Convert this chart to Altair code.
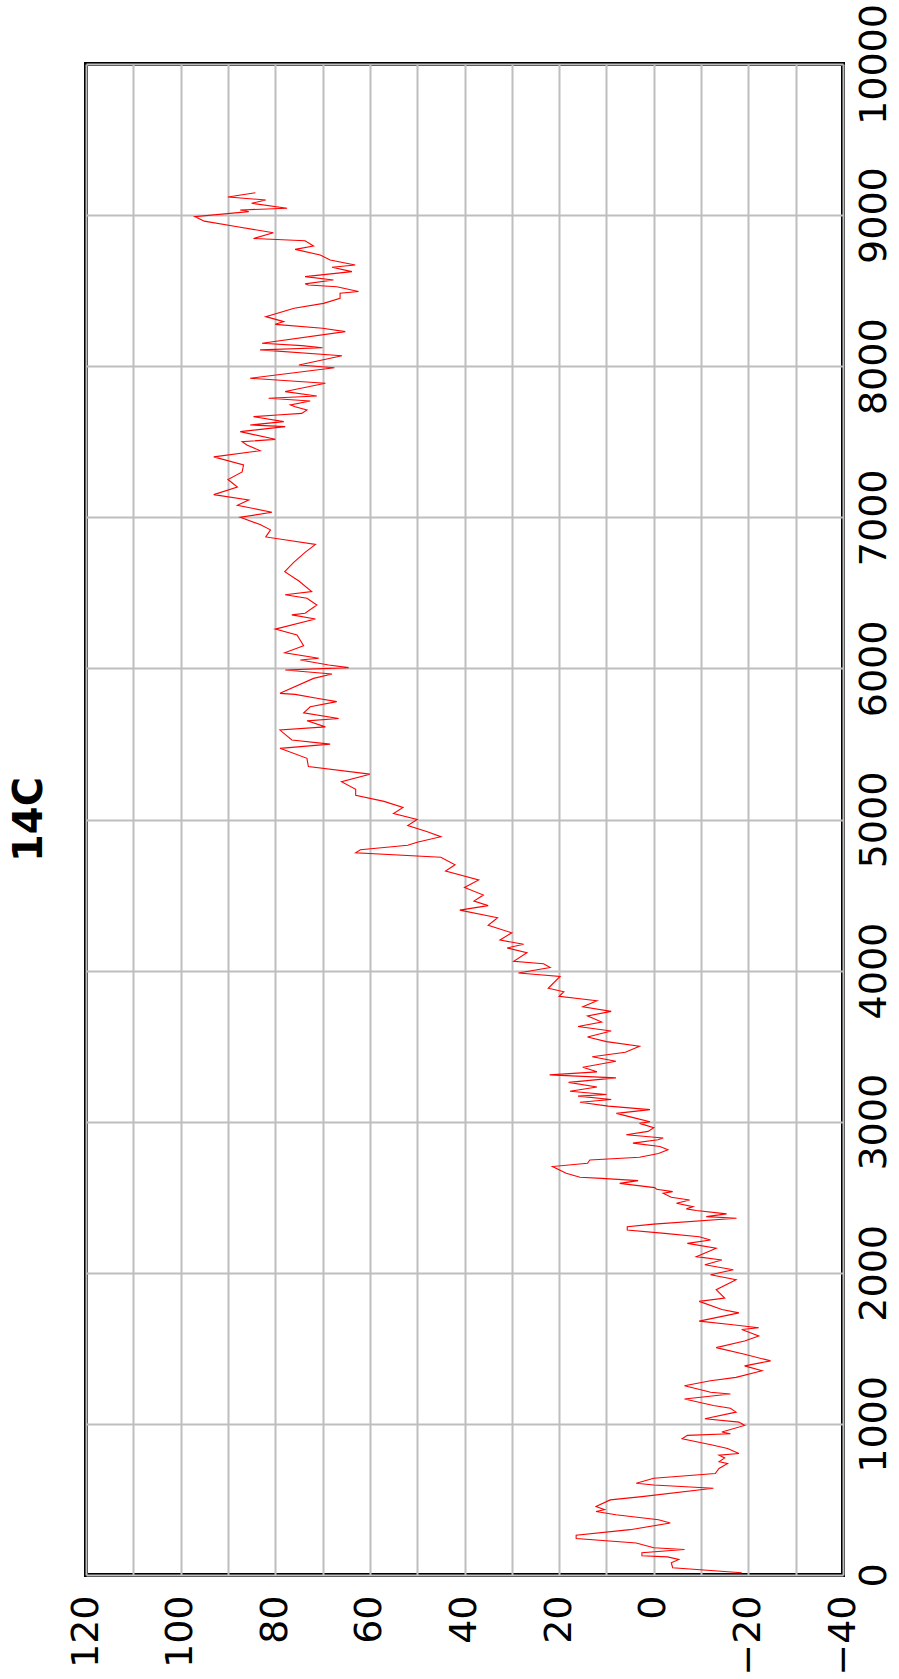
import altair as alt
import pandas as pd

# Radiocarbon anomaly series: age (years) and 14C value
ages = [
    15, 48, 81, 103, 120, 127, 147, 169, 180, 212, 241, 263, 300, 344, 366, 399,
    420, 432, 453, 497, 519, 574, 596, 607, 640, 672, 705, 738, 749, 775, 793, 804,
    837, 859, 902, 924, 935, 946, 990, 1012, 1034, 1078, 1104, 1122, 1165, 1198,
    1209, 1220, 1253, 1286, 1308, 1352, 1384, 1417, 1461, 1505, 1549, 1582, 1625,
    1636, 1658, 1680, 1735, 1757, 1811, 1833, 1888, 1954, 1987, 2020, 2053, 2085,
    2107, 2162, 2195, 2217, 2239, 2261, 2283, 2305, 2322, 2361, 2372, 2390, 2412,
    2423, 2438, 2460, 2482, 2500, 2526, 2537, 2553, 2564, 2592, 2610, 2625, 2632,
    2659, 2703, 2725, 2747, 2765, 2790, 2814, 2836, 2858, 2880, 2892, 2914, 2936,
    2960, 2989, 3000, 3022, 3055, 3080, 3103, 3129, 3147, 3169, 3180, 3202,
    3230, 3260, 3290, 3310, 3330, 3360, 3400, 3430, 3460, 3500, 3530, 3560, 3600,
    3630, 3660, 3700, 3730, 3760, 3800, 3830, 3860, 3883, 3962, 3984, 4021, 4045,
    4061, 4119, 4150, 4174, 4202, 4250, 4300, 4350, 4400, 4430, 4460, 4500, 4550,
    4600, 4659, 4700, 4750, 4780, 4800, 4830, 4850, 4886, 4920, 4960, 5000, 5040,
    5080, 5120, 5160, 5200, 5250, 5300, 5350, 5405, 5471, 5499, 5526, 5592, 5613,
    5653, 5668, 5706, 5746, 5780, 5802, 5828, 5835, 5934, 5963, 5989, 6005, 6022,
    6056, 6067, 6104, 6150, 6221, 6260, 6327, 6354, 6365, 6420, 6464, 6487, 6508,
    6578, 6640, 6702, 6768, 6821, 6870, 6917, 6952, 7000, 7033, 7080, 7114, 7150,
    7200, 7250, 7300, 7346, 7400, 7441, 7479, 7500, 7516, 7567, 7600, 7611, 7633,
    7666, 7677, 7688, 7710, 7732, 7744, 7770, 7788, 7803, 7832, 7887, 7920, 7990,
    8008, 8069, 8108, 8122, 8136, 8152, 8229, 8251, 8277, 8295, 8328, 8383, 8416,
    8449, 8483, 8494, 8526, 8537, 8545, 8571, 8593, 8626, 8655, 8670, 8703, 8736,
    8773, 8795, 8830, 8845, 8883, 8923, 8960, 8990, 9023, 9034, 9045, 9078, 9100,
    9120, 9148,
]
values = [
    -18.6, -4.0, -3.7, -5.3, -2.9, 2.5, 2.5, -6.5, 0.0, 3.7, 16.4, 16.4, 5.0, -3.5,
    -1.0, 8.0, 12.2, 10.4, 12.2, 9.2, 2.5, -12.6, 0.0, 3.7, 0.0, -13.0, -13.8,
    -15.6, -13.8, -15.0, -13.8, -18.0, -15.6, -12.6, -6.0, -7.1, -16.2, -14.4,
    -19.2, -18.0, -10.8, -17.4, -16.2, -12.6, -6.5, -16.2, -12.0, -10.8, -6.5,
    -12.0, -17.4, -22.9, -19.2, -24.7, -19.2, -13.2, -19.2, -22.2, -18.6, -22.2,
    -16.2, -9.6, -18.0, -14.4, -9.6, -15.0, -13.2, -17.4, -12.0, -16.8, -10.8,
    -14.4, -9.0, -13.2, -7.1, -12.0, -9.6, -2.3, 5.6, 5.6, 0.0, -17.5, -11.1,
    -15.4, -9.0, -6.9, -8.3, -4.8, -7.6, -3.7, -2.0, -4.0, -0.6, -0.2, 7.2, 3.3,
    11.0, 15.6, 18.5, 21.4, 14.0, 13.5, 3.0, -1.0, -3.0, -1.3, 4.4, -0.9, -2.0,
    5.8, 1.2, 0.0, 3.0, 0.8, 3.7, 7.9, 0.8, 9.6, 15.6, 9.0, 16.0, 10.0, 17.7,
    12.0, 18.0, 8.0, 22.0, 12.0, 15.0, 8.0, 13.0, 6.0, 3.0, 10.0, 14.0, 9.0, 16.0,
    11.0, 14.0, 9.0, 15.0, 12.0, 20.0, 19.0, 22.3, 19.8, 28.6, 21.9, 23.3, 29.6,
    26.8, 31.0, 27.5, 32.5, 30.0, 35.0, 33.0, 41.0, 35.0, 38.0, 36.0, 40.0, 37.0,
    44.0, 42.0, 45.0, 63.0, 62.0, 52.0, 50.0, 45.0, 48.0, 52.0, 50.0, 55.0, 53.0,
    57.0, 63.0, 63.0, 66.0, 60.0, 73.0, 73.3, 79.0, 68.4, 76.5, 79.0, 69.4, 73.3,
    66.6, 74.0, 72.6, 67.0, 71.2, 75.8, 79.0, 71.9, 68.0, 77.9, 64.5, 68.7, 74.7,
    70.8, 78.0, 74.0, 75.4, 80.0, 71.5, 76.5, 73.7, 71.2, 73.3, 77.9, 72.3, 75.0,
    78.0, 76.1, 73.7, 71.5, 82.0, 81.0, 83.2, 87.4, 80.7, 88.0, 85.6, 93.0, 88.0,
    90.0, 87.0, 86.7, 93.0, 83.2, 86.0, 87.0, 80.0, 87.4, 77.9, 85.3, 78.2, 84.6,
    79.6, 74.4, 73.3, 75.8, 76.8, 72.6, 81.4, 71.2, 77.9, 69.4, 85.3, 67.5, 75.0,
    65.9, 83.2, 70.0, 74.4, 82.8, 65.2, 70.0, 80.0, 78.2, 82.0, 76.0, 69.8, 66.3,
    66.3, 62.4, 67.0, 73.0, 73.7, 67.7, 73.7, 63.8, 68.0, 63.1, 68.4, 70.5, 75.8,
    71.9, 73.7, 84.6, 80.4, 88.0, 95.0, 97.0, 85.6, 87.4, 77.5, 85.0, 82.0, 90.0,
    84.2,
]

value_grid = list(range(-40, 121, 10))
age_ticks = list(range(0, 10001, 1000))

df = pd.DataFrame({"age": ages, "c14": values})

label_font = "DejaVu Sans"
label_size = 38

chart = (
    alt.Chart(df)
    .mark_line(color="#ff0000", strokeWidth=1.1)
    .encode(
        x=alt.X(
            "c14:Q",
            scale=alt.Scale(domain=[-40, 120], reverse=True, nice=False, zero=False),
            axis=alt.Axis(
                orient="bottom",
                title=None,
                values=value_grid,
                format="d",
                labelExpr="datum.value % 20 === 0 ? datum.label : ''",
                labelAngle=270,
                labelAlign="right",
                labelBaseline="middle",
                labelPadding=20,
                labelFont=label_font,
                labelFontSize=label_size,
                labelColor="black",
                labelFlush=False,
                labelOverlap=False,
                labelBound=False,
                ticks=False,
                domain=False,
                grid=True,
                gridColor="#bebebe",
                gridWidth=2,
            ),
        ),
        y=alt.Y(
            "age:Q",
            scale=alt.Scale(domain=[0, 10000], nice=False),
            axis=alt.Axis(
                orient="right",
                title=None,
                values=age_ticks,
                format="d",
                labelAngle=270,
                labelAlign="center",
                labelBaseline="top",
                labelPadding=12,
                labelFont=label_font,
                labelFontSize=label_size,
                labelColor="black",
                labelFlush=False,
                labelOverlap=False,
                labelBound=False,
                ticks=False,
                domain=False,
                grid=True,
                gridColor="#bebebe",
                gridWidth=2,
            ),
        ),
        order="age:Q",
    )
    .properties(
        width=757,
        height=1511,
        title=alt.TitleParams(
            "14C",
            orient="left",
            font=label_font,
            fontSize=40,
            fontWeight="bold",
            color="black",
            offset=17,
        ),
        padding={"left": 86, "top": 64, "right": 56, "bottom": 104},
        autosize="none",
    )
    .configure_view(stroke="black", strokeWidth=4)
)

chart.save("out.html", embed_options={"renderer": "svg", "actions": False})
